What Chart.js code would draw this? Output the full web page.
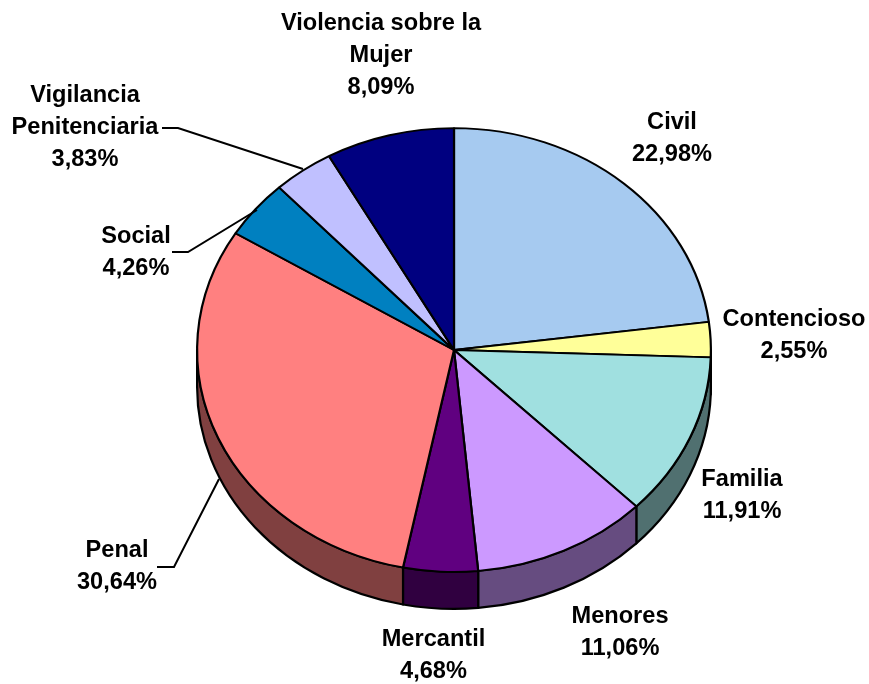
<!DOCTYPE html>
<html><head><meta charset="utf-8">
<style>html,body{margin:0;padding:0;background:#fff}#w{width:869px;height:684px;position:relative}</style>
<script src="https://cdn.jsdelivr.net/npm/chart.js@4"></script>
</head><body><div id="w"><canvas id="c" width="869" height="684"></canvas></div>
<script>
const categories = ['Civil','Contencioso','Familia','Menores','Mercantil','Penal','Social','Vigilancia Penitenciaria','Violencia sobre la Mujer'];
const values = [22.98,2.55,11.91,11.06,4.68,30.64,4.26,3.83,8.09];
const percentLabels = ['22,98%','2,55%','11,91%','11,06%','4,68%','30,64%','4,26%','3,83%','8,09%'];
const colors = ['#A6CAF0','#FFFF99','#A0E0E0','#CC99FF','#600080','#FF8080','#0080C0','#C0C0FF','#000080'];
const sideColors = ['#536578','#80804C','#507070','#664C80','#300040','#804040','#004060','#606080','#000040'];
const labelLines = [['Civil'],['Contencioso'],['Familia'],['Menores'],['Mercantil'],['Penal'],['Social'],['Vigilancia','Penitenciaria'],['Violencia sobre la','Mujer']];
const labelCenters = [[672,122],[794,319],[742,479],[620,616],[433.5,639],[117,550],[136,236],[85,95],[381,23]];
const leaders = [null,null,null,null,null,[[157,567],[174,567],[219,479]],[[172,252],[188,252],[257,210]],[[162,128],[178,128],[303,169]],null];

const RY_RATIO = 222/257, DEPTH = 37, LINE = 32;

const pie3d = {
  id:'pie3d',
  beforeDatasetsDraw(chart){
    const ctx = chart.ctx, arcs = chart.getDatasetMeta(0).data;
    ctx.save();
    arcs.forEach((a,i)=>{
      const {x,y,startAngle,endAngle,outerRadius:r} = a.getProps(['x','y','startAngle','endAngle','outerRadius'],true);
      const ry = r*RY_RATIO;
      const s = Math.max(startAngle,0), e = Math.min(endAngle,Math.PI);
      if(e<=s) return;
      ctx.beginPath();
      ctx.ellipse(x,y,r,ry,0,s,e);
      ctx.ellipse(x,y+DEPTH,r,ry,0,e,s,true);
      ctx.closePath();
      ctx.fillStyle = sideColors[i];
      ctx.fill();
      ctx.lineWidth = 2.2; ctx.strokeStyle = '#000'; ctx.lineJoin='round';
      ctx.stroke();
    });
    ctx.restore();
    const a0 = arcs[0];
    ctx.save();
    ctx.translate(a0.x,a0.y); ctx.scale(1,RY_RATIO); ctx.translate(-a0.x,-a0.y);
  },
  afterDatasetsDraw(chart){
    const ctx = chart.ctx;
    ctx.restore();
    ctx.save();
    ctx.font = 'bold 23.6px "Liberation Sans", Arial, sans-serif';
    ctx.fillStyle = '#000'; ctx.textAlign = 'center'; ctx.textBaseline = 'middle';
    categories.forEach((n,i)=>{
      const [cx,cy] = labelCenters[i];
      const lines = labelLines[i].concat(percentLabels[i]);
      lines.forEach((t,k)=>ctx.fillText(t,cx,cy+k*LINE));
      if(leaders[i]){
        ctx.beginPath();
        leaders[i].forEach((p,k)=>k?ctx.lineTo(p[0],p[1]):ctx.moveTo(p[0],p[1]));
        ctx.lineWidth=2; ctx.strokeStyle='#000'; ctx.stroke();
      }
    });
    ctx.restore();
  }
};

new Chart(document.getElementById('c'),{
  type:'pie',
  data:{labels:categories,datasets:[{data:values,backgroundColor:colors,borderColor:'#000',borderWidth:2.2,borderAlign:'center',hoverOffset:0}]},
  options:{responsive:false,animation:false,
    layout:{padding:{left:196,right:157,top:92,bottom:76}},
    plugins:{legend:{display:false},tooltip:{enabled:false}},
    events:[]},
  plugins:[pie3d]
});
</script></body></html>
